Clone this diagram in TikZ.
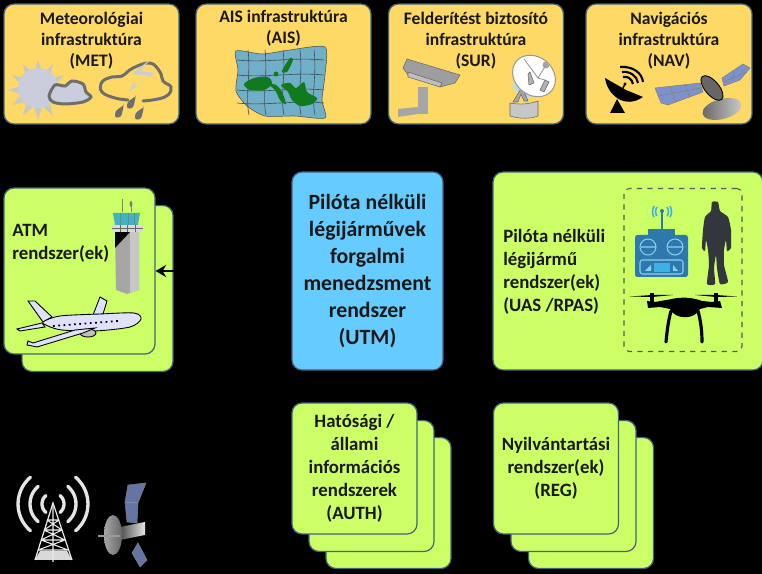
\documentclass[tikz,border=0pt]{standalone}
\usepackage{fontspec}
\setmainfont{Carlito}
\usetikzlibrary{arrows.meta}
\definecolor{infoyellow}{HTML}{FFD966}
\definecolor{cardgreen}{HTML}{CCFF66}
\definecolor{utmblue}{HTML}{66CCFF}
\definecolor{cardline}{HTML}{41657F}
\definecolor{icongray}{HTML}{6E6E6E}
\definecolor{sungray}{HTML}{C9CDDC}
\definecolor{mapblue}{HTML}{6FB0C8}
\definecolor{mapgreen}{HTML}{127A1E}
\definecolor{panelblue}{HTML}{7D92CC}
\definecolor{remoteblue}{HTML}{2F78AE}
\definecolor{skyblue}{HTML}{3FB0E6}
\definecolor{towercyan}{HTML}{40B4C4}
\definecolor{pilotgray}{HTML}{33363C}
\tikzset{
  card/.style={draw=cardline,line width=0.7pt,rounded corners=0.2cm,inner sep=0pt,align=center,font=\bfseries\fontsize{10.7}{13}\selectfont,text=black!90},
  infobox/.style={card,fill=infoyellow,minimum width=3.5cm,minimum height=2.4cm},
  infotext/.style={align=center,inner sep=0pt,font=\bfseries\fontsize{10}{11.9}\selectfont,text=black!90},
  atmbox/.style={card,fill=cardgreen,minimum width=3.02cm,minimum height=3.32cm},
  stackbox/.style={card,fill=cardgreen,minimum width=2.5cm,minimum height=2.62cm},
  sidetext/.style={align=left,inner sep=0pt,font=\bfseries\fontsize{10.7}{13}\selectfont,text=black!90},
  cloudline/.style={draw=icongray,line width=1.7pt},
  grayline/.style={draw=black!60,line width=0.3pt,fill=black!30},
  panel/.style={draw=black!50,line width=0.3pt,fill=panelblue},
  wave/.style={line width=1.9pt,line cap=round,black!10}
}
\begin{document}
\begin{tikzpicture}[>={Stealth[length=6pt,width=7pt,inset=2pt]},x=0.02cm,y=-0.02cm]
    \useasboundingbox(0,0)rectangle(762,574);
    \fill[black](0,0)rectangle(762,574);
    % top row
    \node[infobox](met)at(91.5,64){};
    \node[infobox](ais)at(283.5,64){};
    \node[infobox](sur)at(476,64){};
    \node[infobox,minimum width=3.32cm](nav)at(669,64){};
    \node[infotext](mettext)at(91.5,41){Meteorológiai\\infrastruktúra\\(MET)};
    \node[infotext](aistext)at(283.5,28){AIS infrastruktúra\\(AIS)};
    \node[infotext](surtext)at(476,41){Felderítést biztosító\\infrastruktúra\\(SUR)};
    \node[infotext](navtext)at(669,41){Navigációs\\infrastruktúra\\(NAV)};
    % MET
    \foreach \a in {0,30,...,330}
        \fill[black!22](38,90)+(\a-12:18)--+(\a:30)--+(\a+12:18)--cycle;
    \fill[sungray](38,88)circle(20);
    \draw[cloudline,fill=sungray]plot[smooth cycle]coordinates{(49,96)(55,85)(65,86)(72,81)(83,84)(86,92)(91,97)(83,102)(65,104)(53,102)};
    \draw[cloudline,line cap=round]plot[smooth,tension=0.7]coordinates{(128,100)(115,98)(102,92)(102,82)(112,77)(122,76)(133,68)(150,63)(160,72)(163,81)(171,87)(168,95)(158,99)(143,101)};
    \fill[panelblue!60!black!30](152,58)--(132,74)--(150,76)--(129,92)--(134,82)--(136,86)--(155,73)--(140,71)--cycle;
    \foreach \dx/\dy in {136/96,124/105,144/107}
        \fill[icongray](\dx,\dy)..controls+(-4,3)and+(0,-4)..++(-9,9)..controls+(0,4)and+(-4,1)..++(5,3)..controls+(3,-1)and+(0,-6)..(\dx,\dy);
    % AIS
    \draw[black!70,fill=mapblue,line width=0.3pt]plot[smooth cycle,tension=0.4]coordinates{(236,51)(262,54)(290,50)(325,47)(325,75)(322,100)(325,118)(295,116)(265,116)(247,106)(236,91)(238,70)};
    \foreach \gx in {248,265,283,300,314}
        \draw[black!70,line width=0.35pt](\gx,50)..controls(\gx+3,75)and(\gx-3,95)..(\gx+1,115);
    \foreach \gy in {60,75,90,103}
        \draw[black!70,line width=0.35pt](237,\gy)..controls(265,\gy+3)and(295,\gy-3)..(324,\gy);
    \fill[mapgreen]plot[smooth cycle]coordinates{(244,84)(254,78)(268,77)(272,84)(264,90)(250,90)};
    \fill[mapgreen]plot[smooth cycle]coordinates{(268,84)(275,90)(280,100)(286,104)(282,92)(276,85)};
    \fill[mapgreen]plot[smooth cycle]coordinates{(281,85)(290,83)(296,88)(304,82)(307,92)(317,98)(312,104)(300,106)(292,100)(288,92)};
    \fill[mapgreen]plot[smooth cycle]coordinates{(282,71)(290,58)(293,60)(287,72)};
    \fill[mapgreen](276,74)circle(2.5);
    % SUR
    \fill[black!35](418,87)rectangle(428,114);
    \fill[black!35](398,109)--(418,107)--(418,114)--(398,117)--cycle;
    \draw[grayline,fill=black!38](407,59)--(460,75)--(455,83)--(440,87)--(408,75)--(403,68)--cycle;
    \draw[grayline,fill=black!25](408,72)--(442,83)--(440,87)--(408,77)--cycle;
    \draw[grayline,fill=black!22](510,103)--(510,116)..controls(520,119)and(530,119)..(538,116)--(538,101)..controls(530,104)and(520,105)..(510,103)--cycle;
    \fill[skyblue!40](510,83)--(537,93)--(524,100)--cycle;
    \draw[grayline,fill=black!35](513,102)--(522,87)--(528,101)--(524,101)--(521,94)--(518,102)--cycle;
    \draw[black!40,line width=0.6pt,fill=white,rotate around={-40:(534,76)}](534,76)ellipse(23 and 19);
    \draw[grayline](528,74)--(530,72)--(534,83)--(529,85)--cycle;
    \draw[grayline](545,80)--(549,82)--(544,92)--(540,90)--cycle;
    \fill[black!35](546,65)circle(3.5);
    \draw[black!40,line width=0.5pt](524,59)--(538,78)--(546,65)(538,78)--(545,80);
    % NAV
    \fill[black](605,78)..controls(607,94)and(624,110)..(643,97)--(626,90)--cycle;
    \fill[black](617,99)--(625,113)--(610,113)--cycle;
    \draw[black,line width=0.8pt](622,90)--(625,84);
    \fill[black](625,84)circle(1.6);
    \draw[black,line width=1.2pt](623,77)..controls(628,76)and(632,79)..(633,84);
    \draw[black,line width=1.2pt](622,72)..controls(630,71)and(637,76)..(638,83);
    \draw[black,line width=1.2pt](620,67)..controls(633,66)and(642,73)..(643,82);
    \draw[panel](655,88)--(700,83)--(703,92)--(668,105)--(661,103)--cycle;
    \draw[black!50,line width=0.3pt](670,87)--(676,102)(685,85)--(690,97)(658,96)--(701,88);
    \draw[panel](722,78)--(743,64)--(750,68)--(740,80)--(724,86)--cycle;
    \draw[black!50,line width=0.3pt](733,71)--(734,81)(723,82)--(746,72);
    \shade[left color=black!60,middle color=black,right color=black!20,rotate around={15:(722,109)}](722,109)ellipse(20 and 10);
    \draw[black,line width=0.5pt,fill=black!60,rotate around={40:(712,88)}](712,88)ellipse(7 and 15);
    % centre
    \node[card,fill=utmblue,minimum width=3.02cm,minimum height=3.96cm,font=\bfseries\fontsize{12.4}{15.4}\selectfont](utm)at(367.5,271){Pilóta nélküli\\légijárművek\\forgalmi\\menedzsment\\rendszer\\(UTM)};
    % ATM
    \node[atmbox](atmback)at(97.5,288.5){};
    \node[atmbox](atm)at(79.5,271){};
    \node[sidetext,anchor=north west](atmtext)at(12,224){ATM\\rendszer(ek)};
    \fill[black!35](115,232)--(139,232)--(139,290)--(127,294)--(116,290)--cycle;
    \fill[black!22](130,232)--(139,232)--(139,290)--(130,293)--cycle;
    \fill[black](115,232)--(130,232)--(115,248)--cycle;
    \fill[black!15](112,225)rectangle(143,232);
    \draw[black!60,line width=0.3pt](112,228)--(143,228)(120,225)--(120,232)(127,225)--(127,232)(135,225)--(135,232);
    \fill[towercyan](113,213)--(140,213)--(138,225)--(115,225)--cycle;
    \draw[black!50,line width=0.3pt](120,213)--(120,225)(128,213)--(128,225)(134,213)--(134,225)(122,212)--(122,199)(131,212)--(131,202);
    \fill[black!50](131,204)ellipse(1.5 and 3);
    \draw[black,line width=0.5pt,fill=blue!12]plot coordinates{(28,301)(35,301)(52,317)(43,322)}--cycle;
    \draw[black,line width=0.5pt,fill=blue!12](17,329)--(42,323)--(45,327)--(20,331)--cycle;
    \draw[black,line width=0.5pt,fill=blue!12](100,297)--(107,301)--(103,314)--(93,315)--cycle;
    \draw[black,line width=0.5pt,fill=blue!12]plot[smooth cycle,tension=0.5]coordinates{(43,322)(60,316)(100,314)(134,313)(141,319)(130,327)(95,331)(62,330)(48,326)};
    \draw[black,line width=0.5pt,fill=black!25](88,333)ellipse(8 and 4);
    \draw[black,line width=0.5pt,fill=blue!12](75,330)--(95,328)--(83,333)--(37,347)--(27,345)--(28,341)--(33,343)--cycle;
    \draw[black,line width=1pt,dotted](53,326)--(118,321);
    % UAS
    \node[card,fill=cardgreen,minimum width=5.4cm,minimum height=3.96cm](uas)at(628,271){};
    \node[sidetext,anchor=west](uastext)at(503,272){Pilóta nélküli\\légijármű\\rendszer(ek)\\(UAS /RPAS)};
    \node[draw=black!65,dashed,line width=0.6pt,rounded corners=0.1cm,minimum width=2.36cm,minimum height=3.26cm,inner sep=0pt](uasgroup)at(683,270){};
    \fill[remoteblue](648,229)rectangle(675,236);
    \fill[remoteblue,rounded corners=0.05cm](635,235)rectangle(688,277);
    \draw[remoteblue,line width=0.8pt](662,211)--(662,230);
    \fill[remoteblue](662,211)circle(2);
    \draw[skyblue,line width=0.9pt](657,207)..controls(655,210)and(655,213)..(657,216);
    \draw[skyblue,line width=0.9pt](667,207)..controls(669,210)and(669,213)..(667,216);
    \draw[skyblue,line width=0.9pt](654,206)..controls(652,210)and(652,214)..(654,217);
    \draw[skyblue,line width=0.9pt](670,206)..controls(672,210)and(672,214)..(670,217);
    \draw[skyblue!60,line width=0.6pt](648,247)circle(8)(675,247)circle(8)(641,247)--(655,247)(668,247)--(682,247);
    \draw[skyblue!60,line width=0.6pt,rounded corners=0.05cm](640,260)rectangle(683,274);
    \fill[skyblue](654,263)rectangle(670,272);
    \fill[skyblue!60](645,271)--(651,265)--(651,271)--cycle(678,271)--(673,265)--(673,271)--cycle;
    \fill[pilotgray]plot[smooth cycle,tension=0.3]coordinates{(712,202)(718,202)(720,211)(728,217)(731,230)(731,248)(727,251)(726,240)(724,250)(724,265)(728,282)(720,284)(717,268)(716,255)(714,268)(715,284)(707,284)(709,265)(708,250)(706,240)(705,251)(702,248)(703,230)(705,217)(711,211)};
    \fill[black](630,296.5)--(652,295)--(673,295)--(652,297)--cycle;
    \fill[black](695,295)--(716,295)--(737,296.5)--(716,297)--cycle;
    \fill[black](650,293)rectangle(654,303);
    \fill[black](714,293)rectangle(718,303);
    \fill[black](647,301)--(655,302)--(672,299)..controls(680,297)and(692,297)..(702,301)--(712,302)--(720,301)--(722,308)--(708,307)--(700,309)..controls(695,320)and(675,320)..(670,309)--(660,307)--(648,308)--cycle;
    \draw[black,line width=1.8pt,line cap=round](671,311)..controls(668,322)and(667,332)..(666,342);
    \draw[black,line width=1.8pt,line cap=round](698,311)..controls(701,322)and(702,332)..(702,342);
    % AUTH, REG
    \node[stackbox](authback)at(388.5,503){};
    \node[stackbox](authmid)at(371.5,486){};
    \node[stackbox](auth)at(354.5,468.5){Hatósági /\\állami\\információs\\rendszerek\\(AUTH)};
    \node[stackbox](regback)at(591,503){};
    \node[stackbox](regmid)at(573.5,486){};
    \node[stackbox](reg)at(556,468.5){Nyilvántartási\\rendszer(ek)\\(REG)};
    % radio tower
    \fill[black!15](35,560)--(40,551)--(67,551)--(72,560)--cycle;
    \draw[black!8,line width=0.7pt](35,560)--(53,503)--(72,560);
    \draw[black!8,line width=0.6pt](53,503)--(53,562)(47,520)--(59,520)(44,530)--(62,530)(41,540)--(65,540)(38,550)--(68,550)(47,520)--(62,530)(59,520)--(44,530)(44,530)--(65,540)(62,530)--(41,540)(41,540)--(68,550)(65,540)--(38,550);
    \foreach \r in {11,23,35}{
        \draw[wave]plot[smooth,domain=130:230,samples=15,variable=\t]({53+\r*cos(\t)},{504+\r*sin(\t)});
        \draw[wave]plot[smooth,domain=-50:50,samples=15,variable=\t]({53+\r*cos(\t)},{504+\r*sin(\t)});
    }
    % satellite
    \draw[black!50,line width=0.3pt,fill=panelblue!80!black](125,502)--(128,485)--(146,483)--(138,503)--(137,523)--(127,522)--cycle;
    \draw[black!40,line width=0.3pt](125,502)--(138,503);
    \draw[black!50,line width=0.3pt,fill=panelblue!80!black](132,553)--(140,567)--(147,560)--(138,543)--cycle;
    \shade[left color=black!70,right color=black!10](120,527)--(145,522)--(145,535)--(120,540)--cycle;
    \shade[left color=black!35,middle color=white,right color=black!60](113,535)ellipse(9 and 20);
    \draw[black!40,line width=0.6pt](98,536)--(120,536);
    % connector
    \draw[->,black,line width=0.9pt](utm.west|-atm)--(atm.east);
\end{tikzpicture}
\end{document}
